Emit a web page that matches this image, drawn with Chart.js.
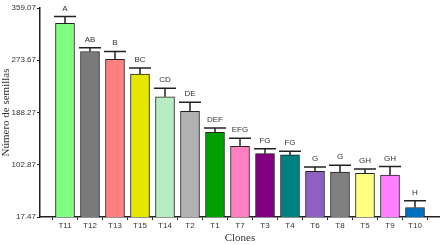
<!DOCTYPE html>
<html>
<head>
<meta charset="utf-8">
<script src="https://cdn.jsdelivr.net/npm/chart.js@4"></script>
<style>
  html, body { margin: 0; padding: 0; background: #fff; }
  #wrap { width: 440px; height: 245px; }
</style>
</head>
<body>
<div id="wrap"><canvas id="chart"></canvas></div>
<script>
// clones, in the order they appear
const clones = ["T11", "T12", "T13", "T15", "T14", "T2", "T1", "T7", "T3", "T4", "T6", "T8", "T5", "T9", "T10"];
// mean number of seeds
const means = [334, 288, 275, 251, 214, 190, 156, 133, 121, 119, 92, 91, 89, 86, 33];
// standard error (drawn upwards only)
const errors = [11, 6, 13, 10, 14, 15, 7, 13, 8, 6, 7, 11, 7, 14, 11];
// significance letters
const letters = ["A", "AB", "B", "BC", "CD", "DE", "DEF", "EFG", "FG", "FG", "G", "G", "GH", "GH", "H"];
const barColors = ["#80ff80", "#7a7a7a", "#ff8080", "#e6e600", "#b8ecc4", "#b2b2b2", "#00a000", "#ff80c0",
                   "#800080", "#008080", "#9060c0", "#808080", "#ffff80", "#ff80ff", "#0070c0"];
const yTicks = [17.47, 102.87, 188.27, 273.67, 359.07];

const sans = "'Liberation Sans', Arial, sans-serif";
const serif = "'Liberation Serif', 'Times New Roman', serif";

// error bars + letters on top of the bars
const errorBarPlugin = {
    id: "errorBars",
    afterDatasetsDraw(chart) {
        const ctx = chart.ctx;
        const xs = chart.scales.x;
        const ys = chart.scales.y;
        ctx.save();
        ctx.strokeStyle = "#222";
        ctx.lineWidth = 1.5;
        ctx.fillStyle = "#333";
        ctx.font = "8px " + sans;
        ctx.textAlign = "center";
        ctx.textBaseline = "alphabetic";
        means.forEach((m, i) => {
            const x = xs.getPixelForValue(i);
            const yTop = ys.getPixelForValue(m);
            const yErr = ys.getPixelForValue(m + errors[i]);
            ctx.beginPath();
            ctx.moveTo(x, yTop);
            ctx.lineTo(x, yErr);
            ctx.moveTo(x - 11, yErr);
            ctx.lineTo(x + 11, yErr);
            ctx.stroke();
            ctx.fillText(letters[i], x, yErr - 6);
        });
        ctx.restore();
    }
};

new Chart(document.getElementById("chart"), {
    type: "bar",
    data: {
        datasets: [{
            data: means.map((v, i) => ({ x: i, y: v })),
            backgroundColor: barColors,
            borderColor: "#222",
            borderWidth: 1,
            borderSkipped: "bottom",
            barThickness: 19
        }]
    },
    options: {
        responsive: true,
        maintainAspectRatio: false,
        animation: false,
        layout: { padding: { top: 8, right: 0, left: 0, bottom: 0 } },
        plugins: {
            legend: { display: false },
            tooltip: { enabled: false }
        },
        scales: {
            x: {
                type: "linear",
                offset: false,
                min: -1,
                max: 15,
                afterBuildTicks: (s) => { s.ticks = clones.map((c, i) => ({ value: i })); },
                afterFit: (s) => { s.height = 28; },
                ticks: {
                    autoSkip: false,
                    maxRotation: 0,
                    padding: 1,
                    color: "#333",
                    font: { family: sans, size: 8 },
                    callback: (v) => clones[v] ?? ""
                },
                grid: { drawOnChartArea: false, drawTicks: true, tickLength: 3, color: "#222" },
                border: { display: true, color: "#222", width: 1.5 },
                title: {
                    display: true,
                    text: "Clones",
                    color: "#333",
                    font: { family: serif, size: 11 },
                    padding: { top: 0, bottom: 0 }
                }
            },
            y: {
                min: 17.47,
                max: 359.07,
                afterBuildTicks: (s) => { s.ticks = yTicks.map((v) => ({ value: v })); },
                afterFit: (s) => { s.width = 40; },
                ticks: {
                    padding: 1,
                    color: "#333",
                    font: { family: sans, size: 8 },
                    callback: (v) => v.toFixed(2)
                },
                grid: { drawOnChartArea: false, drawTicks: true, tickLength: 3, color: "#222" },
                border: { display: true, color: "#222", width: 1.5 },
                title: {
                    display: true,
                    text: "Número de semillas",
                    color: "#333",
                    font: { family: serif, size: 11 },
                    padding: { top: 0, bottom: 0 }
                }
            }
        }
    },
    plugins: [errorBarPlugin]
});
</script>
</body>
</html>
